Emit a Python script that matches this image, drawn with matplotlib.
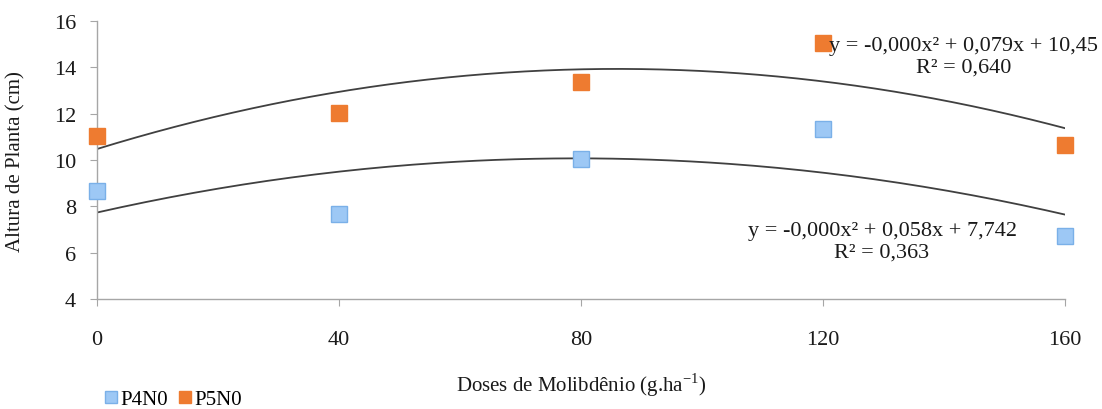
import numpy as np
import matplotlib
matplotlib.use("Agg")
import matplotlib.pyplot as plt

plt.rcParams['font.family'] = ['Liberation Serif', 'DejaVu Serif']
plt.rcParams['mathtext.fontset'] = 'custom'
plt.rcParams['mathtext.rm'] = 'Liberation Serif'

doses = [0, 40, 80, 120, 160]
p4n0 = [8.66, 7.67, 10.04, 11.34, 6.72]
p5n0 = [11.03, 12.03, 13.37, 15.05, 10.65]
series_names = ["P4N0", "P5N0"]
eq_p4 = "y = -0,000x² + 0,058x + 7,742\nR² = 0,363"
eq_p5 = "y = -0,000x² + 0,079x + 10,45\nR² = 0,640"
xticks = [0, 40, 80, 120, 160]
yticks = [4, 6, 8, 10, 12, 14, 16]

blue_face = "#9DC8F5"
blue_edge = "#7AB0E8"
orange = "#EE7B30"
txt = "#1a1a1a"

fig = plt.figure(figsize=(11.02, 4.10), dpi=100)
ax = fig.add_axes([0.088, 0.268, 0.878, 0.678])

xs = np.linspace(0, 160, 200)
for vals in (p4n0, p5n0):
    c = np.polyfit(doses, vals, 2)
    ax.plot(xs, np.polyval(c, xs), color="#404040", lw=1.3, zorder=2)

ax.plot(doses, p4n0, 's', ms=11, mfc=blue_face, mec=blue_edge, mew=1,
        ls='none', clip_on=False, zorder=3, label=series_names[0])
ax.plot(doses, p5n0, 's', ms=11, mfc=orange, mec=orange, mew=1,
        ls='none', clip_on=False, zorder=3, label=series_names[1])

ax.set_xlim(0, 160)
ax.set_ylim(4, 16)
ax.set_xticks(xticks)
ax.set_yticks(yticks)
for s in ("top", "right"):
    ax.spines[s].set_visible(False)
for s in ("left", "bottom"):
    ax.spines[s].set_color("#A6A6A6")
    ax.spines[s].set_linewidth(1)
ax.tick_params(axis='x', direction='out', length=5, color="#A6A6A6",
               labelsize=16, pad=17, labelcolor=txt)
ax.tick_params(axis='y', direction='out', length=5, color="#A6A6A6",
               labelsize=16, pad=10, labelcolor=txt)

ax.set_xlabel("Doses de Molibdênio (g.ha$^{\\mathrm{-1}}$)", fontsize=15, color=txt)
ax.xaxis.set_label_coords(0.5, -71 / 278)
ax.set_ylabel("Altura de Planta (cm)", fontsize=15, color=txt)
ax.yaxis.set_label_coords(-71 / 967, 0.5)

fig.text(1098 / 1102, 1 - 57 / 410, eq_p5, ha='right', va='center',
         fontsize=16, color=txt, multialignment='center', linespacing=1.2)
fig.text(882 / 1102, 1 - 242 / 410, eq_p4, ha='center', va='center',
         fontsize=16, color=txt, multialignment='center', linespacing=1.15)

fig.legend(loc='center left', bbox_to_anchor=(0.095, 10 / 410), ncol=2, frameon=False,
           fontsize=15, handlelength=0.6, handletextpad=0.15, columnspacing=0.5,
           markerscale=0.85, borderaxespad=0, borderpad=0)

fig.savefig("out.png", dpi=100)
